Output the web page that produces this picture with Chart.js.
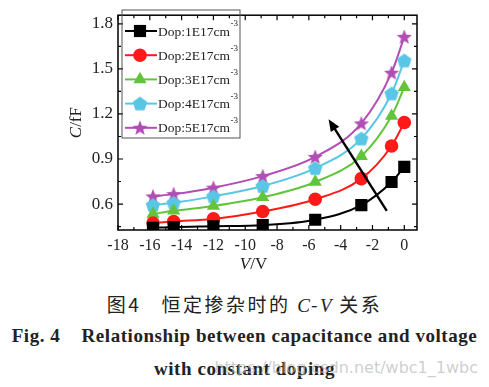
<!DOCTYPE html>
<html>
<head>
<meta charset="utf-8">
<script src="https://cdn.jsdelivr.net/npm/chart.js@4.4.1/dist/chart.umd.min.js"></script>
<style>
  html,body{margin:0;padding:0;background:#fff;}
  #wrap{position:relative;width:489px;height:387px;overflow:hidden;}
  #chartBox{position:absolute;left:0;top:0;width:489px;height:285px;}
  .cap{position:absolute;left:0;width:489px;text-align:center;white-space:nowrap;color:#222;}
  #cap1{top:290px;font-family:"Noto Sans CJK SC",sans-serif;font-size:19px;letter-spacing:2.5px;}
  #cap1 i{font-family:"Liberation Serif",serif;letter-spacing:1px;}
  #cap2{top:325px;font-family:"Liberation Serif",serif;font-size:19px;font-weight:bold;letter-spacing:0.55px;}
  #cap3{top:358px;font-family:"Liberation Serif",serif;font-size:19px;font-weight:bold;letter-spacing:0.55px;}
  #mark{position:absolute;right:11px;top:358px;font-family:"DejaVu Sans",sans-serif;font-size:16px;color:rgba(185,185,185,0.7);white-space:nowrap;}
</style>
</head>
<body>
<div id="wrap">
  <div id="chartBox"><canvas id="cv"></canvas></div>
  <div class="cap" id="cap1">图4&nbsp;&nbsp;&nbsp;恒定掺杂时的 <i>C</i>-<i>V</i> 关系</div>
  <div class="cap" id="cap2">Fig. 4&nbsp;&nbsp;&nbsp; Relationship between capacitance and voltage</div>
  <div class="cap" id="cap3">with constant doping</div>
  <div id="mark">https://blog.csdn.net/wbc1_1wbc</div>
</div>
<script>
// --- datos ---
const VOLTS = [-15.8, -14.5, -12, -8.9, -5.6, -2.7, -0.8, 0];
const DOP1 = [0.441, 0.447, 0.452, 0.459, 0.495, 0.593, 0.747, 0.848];
const DOP2 = [0.473, 0.484, 0.501, 0.550, 0.632, 0.769, 0.987, 1.143];
const DOP3 = [0.534, 0.555, 0.587, 0.645, 0.747, 0.919, 1.186, 1.378];
const DOP4 = [0.593, 0.608, 0.651, 0.720, 0.839, 1.036, 1.336, 1.556];
const DOP5 = [0.651, 0.666, 0.709, 0.786, 0.914, 1.137, 1.475, 1.714];
const LABELS = ["Dop:1E17cm", "Dop:2E17cm", "Dop:3E17cm", "Dop:4E17cm", "Dop:5E17cm"];
const X_TICKS = [-18, -16, -14, -12, -10, -8, -6, -4, -2, 0];
const X_MINOR = [-17, -15, -13, -11, -9, -7, -5, -3, -1];
const Y_TICKS = [0.6, 0.9, 1.2, 1.5, 1.8];
const Y_MINOR = [0.45, 0.75, 1.05, 1.35, 1.65];
const ARROW = [[-1.1, 0.555], [-4.76, 1.165]]; // cola -> punta

const COLORS = ["#000000", "#ff1a1a", "#62c43a", "#5ac6e6", "#b24db4"];
const SERIF = '"Liberation Serif", "Times New Roman", serif';

function shapeCanvas(kind, color){
  const c = document.createElement('canvas');
  c.width = 16; c.height = 16;
  const g = c.getContext('2d');
  g.fillStyle = color;
  g.beginPath();
  const n = kind === 'star' ? 10 : 5;
  for(let i=0;i<n;i++){
    const a = -Math.PI/2 + i*2*Math.PI/n;
    const r = kind === 'star' ? (i%2 ? 3.4 : 8) : 7.6;
    const px = 8 + r*Math.cos(a), py = 8.6 + r*Math.sin(a);
    i ? g.lineTo(px,py) : g.moveTo(px,py);
  }
  g.closePath();
  g.fill();
  return c;
}

const STYLES = [
  {pointStyle:'rect', radius:8.6},
  {pointStyle:'circle', radius:6.8},
  {pointStyle:'triangle', radius:7.6},
  {pointStyle:shapeCanvas('pent', COLORS[3]), radius:8},
  {pointStyle:shapeCanvas('star', COLORS[4]), radius:8}
];

const SERIES = [DOP1, DOP2, DOP3, DOP4, DOP5];

const datasets = SERIES.map((vals,i)=>({
  label: LABELS[i],
  data: VOLTS.map((v,j)=>({x:v, y:vals[j]})),
  borderColor: COLORS[i],
  backgroundColor: COLORS[i],
  borderWidth: 2,
  pointStyle: STYLES[i].pointStyle,
  pointRadius: STYLES[i].radius,
  pointBorderWidth: 0,
  cubicInterpolationMode: 'monotone'
}));

// marco, ticks hacia dentro, flecha, títulos y leyenda
const decor = {
  id:'decor',
  afterDraw(chart){
    const ctx = chart.ctx;
    const a = chart.chartArea;
    const xs = chart.scales.x, ys = chart.scales.y;
    ctx.save();
    ctx.strokeStyle = '#000';
    ctx.lineWidth = 1.5;
    ctx.strokeRect(a.left, a.top, a.right-a.left, a.bottom-a.top);

    ctx.lineWidth = 1.2;
    ctx.beginPath();
    const tx = (v,len)=>{ const p = xs.getPixelForValue(v);
      ctx.moveTo(p,a.bottom); ctx.lineTo(p,a.bottom-len);
      ctx.moveTo(p,a.top); ctx.lineTo(p,a.top+len); };
    const ty = (v,len)=>{ const p = ys.getPixelForValue(v);
      ctx.moveTo(a.left,p); ctx.lineTo(a.left+len,p);
      ctx.moveTo(a.right,p); ctx.lineTo(a.right-len,p); };
    X_TICKS.forEach(v=>tx(v,5)); X_MINOR.forEach(v=>tx(v,3));
    Y_TICKS.forEach(v=>ty(v,5)); Y_MINOR.forEach(v=>ty(v,3));
    ctx.stroke();

    // flecha
    const x0 = xs.getPixelForValue(ARROW[0][0]), y0 = ys.getPixelForValue(ARROW[0][1]);
    const x1 = xs.getPixelForValue(ARROW[1][0]), y1 = ys.getPixelForValue(ARROW[1][1]);
    const ang = Math.atan2(y1-y0, x1-x0);
    ctx.lineWidth = 2.4;
    ctx.beginPath();
    ctx.moveTo(x0,y0);
    ctx.lineTo(x1-8*Math.cos(ang), y1-8*Math.sin(ang));
    ctx.stroke();
    ctx.fillStyle = '#000';
    ctx.beginPath();
    ctx.moveTo(x1,y1);
    ctx.lineTo(x1-12*Math.cos(ang)+5*Math.sin(ang), y1-12*Math.sin(ang)-5*Math.cos(ang));
    ctx.lineTo(x1-12*Math.cos(ang)-5*Math.sin(ang), y1-12*Math.sin(ang)+5*Math.cos(ang));
    ctx.closePath();
    ctx.fill();

    // títulos de ejes (C y V en cursiva)
    ctx.fillStyle = '#222';
    ctx.textBaseline = 'middle';
    ctx.save();
    ctx.translate(77, (a.top+a.bottom)/2);
    ctx.rotate(-Math.PI/2);
    ctx.font = 'italic 17px ' + SERIF;
    const wC = ctx.measureText('C').width;
    ctx.font = '17px ' + SERIF;
    const wR = ctx.measureText('/fF').width;
    let sx = -(wC+wR)/2;
    ctx.font = 'italic 17px ' + SERIF; ctx.textAlign='left';
    ctx.fillText('C', sx, 0);
    ctx.font = '17px ' + SERIF;
    ctx.fillText('/fF', sx+wC, 0);
    ctx.restore();

    ctx.font = 'italic 17px ' + SERIF;
    const wV = ctx.measureText('V').width;
    ctx.font = '17px ' + SERIF;
    const wVr = ctx.measureText('/V').width;
    const cx = (a.left+a.right)/2 - 14;
    let vx = cx - (wV+wVr)/2;
    ctx.textAlign = 'left';
    ctx.font = 'italic 17px ' + SERIF;
    ctx.fillText('V', vx, 265);
    ctx.font = '17px ' + SERIF;
    ctx.fillText('/V', vx+wV, 265);

    // leyenda
    ctx.strokeStyle = '#555';
    ctx.lineWidth = 1;
    ctx.strokeRect(122, 10, 118, 128);
    chart.data.datasets.forEach((ds,i)=>{
      const ry = 31 + i*24.2;
      ctx.strokeStyle = ds.borderColor;
      ctx.lineWidth = 2;
      ctx.beginPath(); ctx.moveTo(125, ry); ctx.lineTo(157, ry); ctx.stroke();
      ctx.fillStyle = ds.backgroundColor;
      Chart.helpers.drawPoint(ctx, {pointStyle:ds.pointStyle, radius:ds.pointRadius, rotation:0, borderWidth:0}, 140, ry);
      ctx.fillStyle = '#222';
      ctx.font = '13.5px ' + SERIF;
      ctx.textAlign = 'left';
      ctx.fillText(ds.label, 158, ry+1);
      const w = ctx.measureText(ds.label).width;
      ctx.font = '9px ' + SERIF;
      ctx.fillText('-3', 158+w+0.5, ry-7);
    });
    ctx.restore();
  }
};

new Chart(document.getElementById('cv'), {
  type:'line',
  data:{ datasets },
  options:{
    responsive:true,
    maintainAspectRatio:false,
    animation:false,
    layout:{ autoPadding:false, padding:{top:7, right:72, left:0, bottom:0} },
    plugins:{ legend:{display:false}, tooltip:{enabled:false} },
    scales:{
      x:{
        type:'linear', min:-18, max:0.8,
        grid:{ display:false, drawTicks:false },
        border:{ display:false },
        afterBuildTicks:(s)=>{ s.ticks = X_TICKS.map(v=>({value:v})); },
        afterFit:(s)=>{ s.height = 55; },
        ticks:{ padding:6, maxRotation:0, autoSkip:false, color:'#222', font:{family:SERIF, size:16} }
      },
      y:{
        type:'linear', min:0.427, max:1.858,
        grid:{ display:false, drawTicks:false },
        border:{ display:false },
        afterBuildTicks:(s)=>{ s.ticks = Y_TICKS.map(v=>({value:v})); },
        afterFit:(s)=>{ s.width = 118; },
        ticks:{ padding:5, color:'#222', font:{family:SERIF, size:17}, callback:(v)=>v.toFixed(1) }
      }
    }
  },
  plugins:[decor]
});
</script>
</body>
</html>
